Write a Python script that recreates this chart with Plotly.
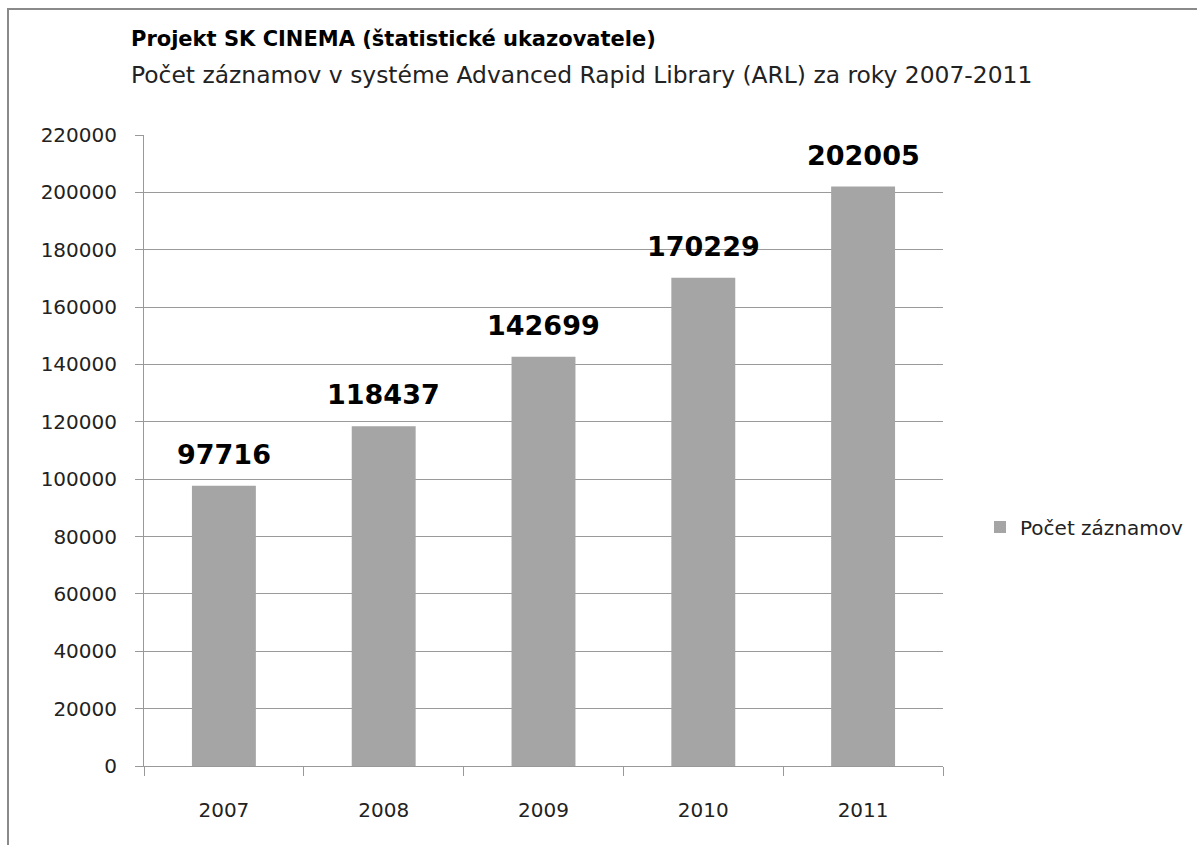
import plotly.graph_objects as go

years = ["2007", "2008", "2009", "2010", "2011"]
counts = [97716, 118437, 142699, 170229, 202005]
y_ticks = list(range(0, 220001, 20000))
series_name = "Počet záznamov"
title_main = "Projekt SK CINEMA (štatistické ukazovatele)"
title_sub = "Počet záznamov v systéme Advanced Rapid Library (ARL) za roky 2007-2011"

FONT = "DejaVu Sans"
W, H = 1197, 845
L, R, T, B = 144, 943, 135, 766
pw, ph = R - L, B - T

def px(x):
    return (x - L) / pw

def py(y):
    return (B - y) / ph

fig = go.Figure()
fig.add_trace(go.Bar(
    x=years, y=counts, name=series_name,
    marker=dict(color="#a5a5a5", line=dict(width=0)),
    width=0.4,
))

# data labels: category axis positions are category indices
label_annots = [
    dict(x=i, y=v, xref="x", yref="y", text="<b>%d</b>" % v,
         showarrow=False, yanchor="bottom", xanchor="center", yshift=14,
         font=dict(family=FONT, size=27, color="black"))
    for i, v in enumerate(counts)
]

fig.update_layout(
    width=W, height=H,
    margin=dict(l=L, r=W - R, t=T, b=H - B, autoexpand=False),
    paper_bgcolor="white", plot_bgcolor="white",
    font=dict(family=FONT, size=20, color="#222222"),
    showlegend=True,
    legend=dict(x=px(980), y=py(527), xanchor="left", yanchor="middle",
                font=dict(family=FONT, size=20, color="#222222"),
                itemwidth=30, bgcolor="rgba(0,0,0,0)"),
    xaxis=dict(
        type="category", showline=True, linecolor="#999999", linewidth=1,
        ticks="outside", ticklen=9, tickcolor="#999999",
        tickson="boundaries", showgrid=False, tickangle=0,
        tickfont=dict(family=FONT, size=20, color="#222222"),
        ticklabelstandoff=26,
    ),
    yaxis=dict(
        range=[0, 220000], tickvals=y_ticks, tickformat="d",
        showline=True, linecolor="#999999", linewidth=1,
        ticks="outside", ticklen=8, tickcolor="#999999",
        showgrid=True, gridcolor="#9a9a9a", gridwidth=1,
        tickfont=dict(family=FONT, size=20, color="#222222"),
        zeroline=False, ticklabelstandoff=14,
    ),
    annotations=label_annots + [
        dict(text="<b>" + title_main + "</b>", xref="paper", yref="paper",
             x=px(129), y=py(39), xanchor="left", yanchor="middle",
             showarrow=False, font=dict(family=FONT, size=21, color="black")),
        dict(text=title_sub, xref="paper", yref="paper",
             x=px(129), y=py(75), xanchor="left", yanchor="middle",
             showarrow=False, font=dict(family=FONT, size=23.4, color="#222222")),
    ],
    shapes=[
        dict(type="rect", xref="paper", yref="paper",
             x0=px(8), x1=px(1210), y0=py(870), y1=py(9),
             line=dict(color="#8a8a8a", width=2), layer="below"),
    ],
)

fig.write_html("out.html", config={"displayModeBar": False},
               post_script="document.body.style.margin='0';")
